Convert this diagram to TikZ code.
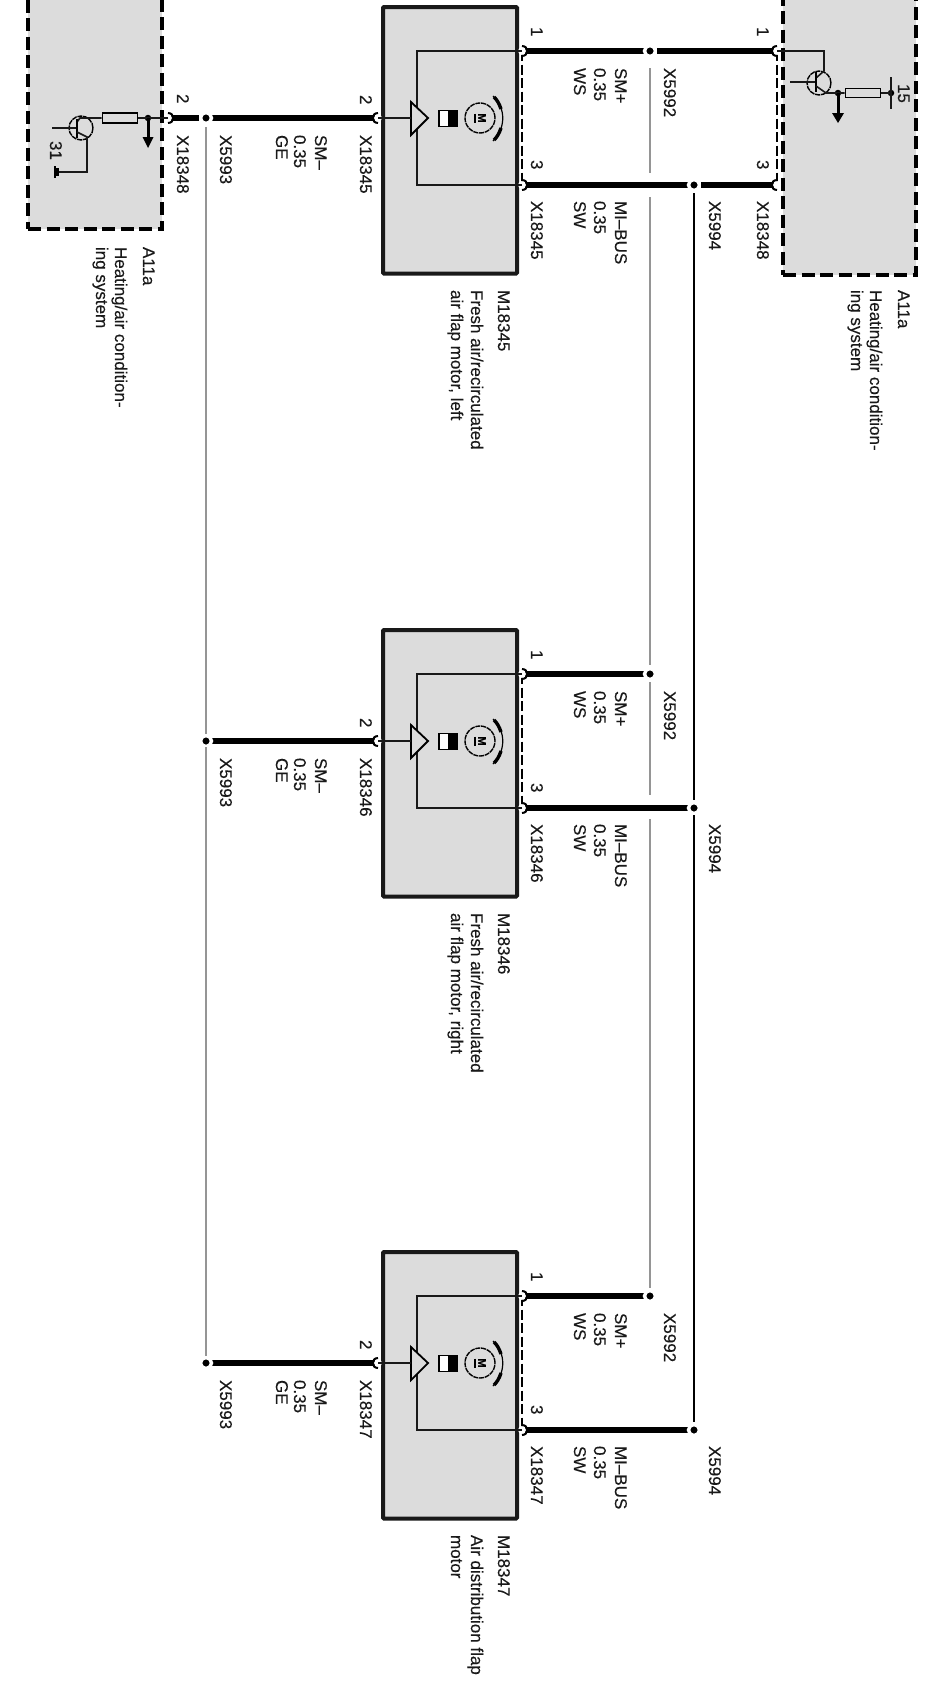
\documentclass[tikz,border=0pt]{standalone}
\usepackage{fontspec}
\setmainfont{Liberation Sans}[FakeBold=0.2]
\definecolor{panel}{HTML}{DCDCDC}
\definecolor{greywire}{HTML}{959595}
\tikzset{
  txt/.style={rotate=-90,anchor=base west,inner sep=0pt,outer sep=0pt,font=\fontsize{17}{20}\selectfont,text=black!90},
  modbox/.style={draw=black!90,fill=panel,line width=4pt,rounded corners=1pt,inner sep=0pt,minimum width=134pt,minimum height=266.5pt},
  ctrlbox/.style={draw=black,fill=panel,line width=3.8pt,dash pattern=on 13pt off 5.5pt,inner sep=0pt},
  thickwire/.style={line width=5.4pt,black},
  thinwire/.style={line width=1.6pt,black!90},
  greyw/.style={line width=2.5pt,greywire},
  busw/.style={line width=2.1pt,black},
  portline/.style={line width=2pt,black},
  dashlink/.style={line width=1.2pt,black,dash pattern=on 10pt off 3.5pt},
  dot/.style={circle,fill=black,draw=white,line width=3.4pt,minimum size=11pt,inner sep=0pt},
  smalldot/.style={circle,fill=black,inner sep=0pt,minimum size=6.5pt},
  res/.style={draw=black,fill=panel,line width=1.7pt,inner sep=0pt,minimum width=35pt,minimum height=10pt},
  trans/.style={circle,draw=black,line width=1.4pt,dash pattern=on 5pt off 0.8pt,inner sep=0pt,minimum size=24pt},
  halfbox/.style={draw=black,line width=1.4pt,fill=white,inner sep=0pt,minimum width=18pt,minimum height=16pt},
  motor/.style={circle,draw=black,line width=1.4pt,dash pattern=on 5pt off 0.8pt,inner sep=0pt,minimum size=30pt},
  tri/.style={draw=black,fill=panel,line width=1.8pt,line join=miter}
}
\newcommand{\portarc}[2]{%
  \fill[white] (#1) circle[radius=4pt];
  \draw[portline] ([shift={(0,-5)}]#1) .. controls ([shift={(#2*7,-5)}]#1) and ([shift={(#2*7,5)}]#1) .. ([shift={(0,5)}]#1);}
\begin{document}
\begin{tikzpicture}[x=1pt,y=-1pt]
\useasboundingbox (0,0) rectangle (951,1697);
% control unit panels
\node[ctrlbox,minimum width=134pt,minimum height=249pt] (aL) at (95,104.5) {};
\node[ctrlbox,minimum width=133pt,minimum height=295pt] (aR) at (849.5,127.5) {};

\foreach \o/\n/\lab/\ta/\tb in {0/1/5/Fresh air\slash recirculated/air flap motor\comma\ left,
                                623/2/6/Fresh air\slash recirculated/air flap motor\comma\ right,
                                1245/3/7/Air distribution flap/motor}{
  \providecommand{\comma}{,}
  \node[modbox] (box\n) at (450,140.25+\o) {};
  \coordinate (pa\n) at (522,51+\o);
  \coordinate (pb\n) at (378,118+\o);
  \coordinate (pc\n) at (522,185+\o);
  \coordinate (ca\n) at (417,51+\o);
  \coordinate (cc\n) at (417,185+\o);
  \coordinate (tc\n) at (411,118+\o);
  \node[dot] (sa\n) at (650,51+\o) {};
  \node[dot] (sc\n) at (694,185+\o) {};
  \node[dot] (sb\n) at (206,118+\o) {};
  % internal wiring
  \draw[thinwire] (pa\n) -- (ca\n) -- (cc\n) -- (pc\n);
  \draw[dashlink] (pa\n) -- (pc\n);
  \draw[tri] (411,102+\o) -- (428,118+\o) -- (411,135+\o) -- cycle;
  \node[halfbox] (hb\n) at (448,118.5+\o) {};
  \fill[black] (448,110.5+\o) rectangle (457,126.5+\o);
  \node[motor] (mot\n) at (480,118+\o) {};
  \node[rotate=-90,inner sep=0pt,font=\bfseries\fontsize{11}{11}\selectfont] (mtxt\n) at (482,118+\o) {M};
  \draw[line width=1.2pt] (475,113.5+\o) -- (475,122.5+\o);
  \draw[line width=1.2pt] (493,96+\o) .. controls (506,108+\o) and (506,128+\o) .. (493,141+\o);
  \draw[line width=3.4pt] (494,97+\o) .. controls (497,100+\o) and (499,103+\o) .. (501,109+\o);
  \draw[line width=3.4pt] (494,140+\o) .. controls (497,137+\o) and (499,134+\o) .. (501,128+\o);
  % harness wires
  \draw[thickwire] (pa\n) -- (sa\n.center);
  \draw[thickwire] (pc\n) -- (sc\n.center);
  \draw[thickwire] (pb\n) -- (sb\n.center);
  \node[dot] at (sa\n) {};
  \node[dot] at (sc\n) {};
  \node[dot] at (sb\n) {};
  \portarc{pa\n}{1}
  \portarc{pc\n}{1}
  \portarc{pb\n}{-1}
  \draw[thinwire] (pa\n) -- (517,51+\o);
  \draw[thinwire] (pc\n) -- (517,185+\o);
  \draw[thinwire] (pb\n) -- (tc\n);
  % labels
  \node[txt] (n1\n) at (531,27+\o) {1};
  \node[txt] (n3\n) at (531,160+\o) {3};
  \node[txt] (n2\n) at (360,95+\o) {2};
  \node[txt] (xa\n) at (531,201+\o) {X1834\lab};
  \node[txt] (xb\n) at (360,135+\o) {X1834\lab};
  \node[txt] (s1\n) at (615,68+\o) {SM+};
  \node[txt] (s2\n) at (594,68+\o) {0.35};
  \node[txt] (s3\n) at (574,68+\o) {WS};
  \node[txt] (m1\n) at (615,201+\o) {MI–BUS};
  \node[txt] (m2\n) at (594,201+\o) {0.35};
  \node[txt] (m3\n) at (574,201+\o) {SW};
  \node[txt] (g1\n) at (315,135+\o) {SM–};
  \node[txt] (g2\n) at (294,135+\o) {0.35};
  \node[txt] (g3\n) at (276,135+\o) {GE};
  \node[txt] (xk\n) at (664,68+\o) {X5992};
  \node[txt] (xm\n) at (709,201+\o) {X5994};
  \node[txt] (xg\n) at (220,135+\o) {X5993};
  \node[txt] (t1\n) at (498,290+\o) {M1834\lab};
  \def\comma{,}
  \node[txt] (t2\n) at (471,290+\o) {\ta};
  \node[txt] (t3\n) at (451,290+\o) {\tb};
}

% grey and black bus lines between the modules
\coordinate (g1a) at (650,68);   \coordinate (g1b) at (650,173);
\coordinate (g1c) at (650,197);  \coordinate (g2a) at (650,665);
\coordinate (g2b) at (650,682);  \coordinate (g2c) at (650,795);
\coordinate (g2d) at (650,819);  \coordinate (g3a) at (650,1288);
\draw[greyw] (g1a) -- (g1b);
\draw[greyw] (g1c) -- (g2a);
\draw[greyw] (g2b) -- (g2c);
\draw[greyw] (g2d) -- (g3a);
\coordinate (b1a) at (206,127);  \coordinate (b2a) at (206,734);
\coordinate (b2b) at (206,747);  \coordinate (b3a) at (206,1356);
\draw[greyw] (b1a) -- (b2a);
\draw[greyw] (b2b) -- (b3a);
\coordinate (k1a) at (694,193);  \coordinate (k2a) at (694,800);
\coordinate (k2b) at (694,815);  \coordinate (k3a) at (694,1422);
\draw[busw] (k1a) -- (k2a);
\draw[busw] (k2b) -- (k3a);

% right control unit
\coordinate (rp1) at (777,51);
\coordinate (rp3) at (777,185);
\draw[dashlink] (rp1) -- (rp3);
\draw[thickwire] (sa1.center) ++(7,0) -- (rp1);
\draw[thickwire] (sc1.center) ++(7,0) -- (rp3);
\portarc{rp1}{-1}
\portarc{rp3}{-1}
\node[trans] (tr) at (819,83) {};
\node[res,minimum width=35pt,minimum height=9pt] (rr) at (863,93) {};
\coordinate (rbar) at (891,93);
\node[smalldot] (rd2) at (838,93) {};
\node[smalldot] (rd3) at (rbar) {};
\draw[thinwire] (rp1) -- (824,51) -- (824,71) -- (816,78);
\draw[thinwire] (790,82) -- (816,82);
\draw[line width=1.8pt] (816,72) -- (816,92);
\draw[thinwire] (816,86) -- (826,93) -- (rr.west);
\draw[thinwire] (rr.east) -- (rbar);
\draw[thinwire] (891,77) -- (891,109);
\draw[line width=3pt] (rd2.center) -- (838,114);
\fill[black] (832,113) -- (844,113) -- (838,123) -- cycle;
\node[txt] (rn1) at (757,27) {1};
\node[txt] (rn3) at (757,160) {3};
\node[txt] (rx) at (757,201) {X18348};
\node[txt] (r15) at (898,84) {15};
\node[txt] (ra1) at (898,290) {A11a};
\node[txt] (ra2) at (870,290) {Heating/air condition-};
\node[txt] (ra3) at (851,290) {ing system};

% left control unit
\coordinate (lp) at (168,118);
\draw[thickwire] (sb1.center) ++(-7,0) -- (lp);
\portarc{lp}{1}
\node[trans] (tl) at (81,128) {};
\node[res] (rl) at (120,118) {};
\node[smalldot] (ld) at (148,118) {};
\draw[thinwire] (lp) -- (rl.east);
\draw[thinwire] (rl.west) -- (80,118) -- (77,122);
\draw[thinwire] (52,128) -- (77,128);
\draw[line width=1.8pt] (77,119) -- (77,138);
\draw[thinwire] (77,132) -- (87,137) -- (87,172) -- (55,172);
\draw[line width=2.2pt] (55,166) -- (55,178);
\fill[black] (55,168) rectangle (59,176);
\draw[line width=3pt] (ld.center) -- (148,138);
\fill[black] (142.5,137) -- (153.5,137) -- (148,148) -- cycle;
\node[txt] (ln2) at (177,94) {2};
\node[txt] (lx) at (177,135) {X18348};
\node[txt] (l31) at (50,141) {31};
\node[txt] (la1) at (143,247) {A11a};
\node[txt] (la2) at (115,247) {Heating/air condition-};
\node[txt] (la3) at (96,247) {ing system};
\end{tikzpicture}
\end{document}
